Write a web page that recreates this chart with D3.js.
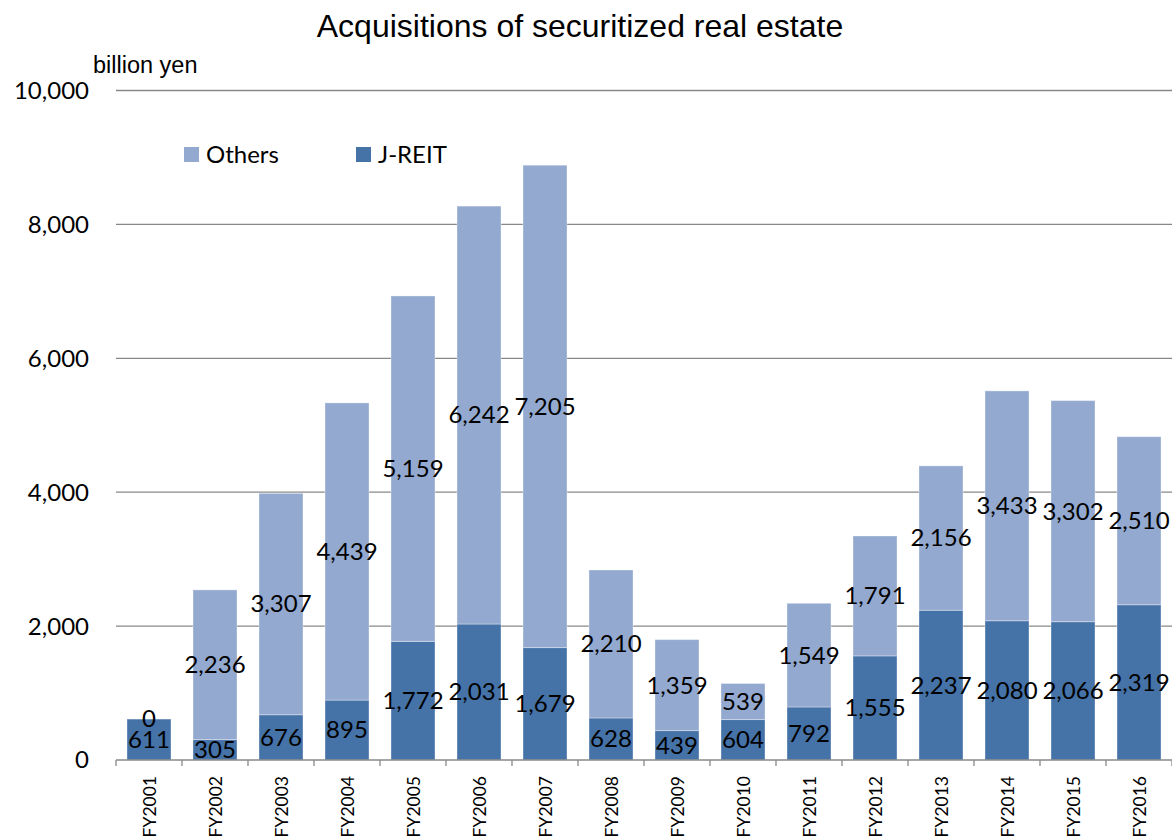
<!DOCTYPE html>
<html><head><meta charset="utf-8">
<script src="https://cdn.jsdelivr.net/npm/d3@7"></script>
<style>body{margin:0;background:#fff}svg{display:block}</style>
</head><body>
<svg id="chart" width="1172" height="838"></svg>
<script>
const categories = ["FY2001","FY2002","FY2003","FY2004","FY2005","FY2006","FY2007","FY2008","FY2009","FY2010","FY2011","FY2012","FY2013","FY2014","FY2015","FY2016"];
const jreit  = [611,305,676,895,1772,2031,1679,628,439,604,792,1555,2237,2080,2066,2319];
const others = [0,2236,3307,4439,5159,6242,7205,2210,1359,539,1549,1791,2156,3433,3302,2510];
const yTicks = [0,2000,4000,6000,8000,10000];
const seriesNames = ["J-REIT","Others"];
const colors = {"J-REIT":"#4572a7","Others":"#93a9cf"};

const svg = d3.select("#chart");
const M = {left:116, right:1172, top:90.5, bottom:760};
const labelFont = "Lato, 'Open Sans', sans-serif";

const x = d3.scaleBand().domain(categories).range([M.left, M.right]).paddingInner(1/3).paddingOuter(1/6);
const y = d3.scaleLinear().domain([0,10000]).range([M.bottom, M.top]);

// gridlines
svg.append("g").selectAll("line").data(yTicks.filter(d=>d>0)).join("line")
  .attr("x1",M.left).attr("x2",M.right)
  .attr("y1",d=>y(d)).attr("y2",d=>y(d))
  .attr("stroke","#888").attr("stroke-width",1.3);

// y tick labels
svg.append("g").selectAll("text").data(yTicks).join("text")
  .attr("x",89).attr("y",d=>y(d)).attr("dy","0.35em")
  .attr("text-anchor","end").attr("font-family",labelFont).attr("font-size",24).attr("fill","#000")
  .text(d=>d3.format(",")(d));

// stacked data
const rows = categories.map((c,i)=>({cat:c,"J-REIT":jreit[i],"Others":others[i]}));
const stack = d3.stack().keys(seriesNames)(rows);

const layers = svg.append("g").selectAll("g").data(stack).join("g")
  .attr("fill",d=>colors[d.key]);
layers.selectAll("rect").data(d=>d).join("rect")
  .attr("x",d=>x(d.data.cat)).attr("width",x.bandwidth())
  .attr("y",d=>y(d[1])).attr("height",d=>y(d[0])-y(d[1]))
  .attr("stroke","#ffffff").attr("stroke-opacity",0.35).attr("stroke-width",1);

// x axis line
svg.append("line").attr("x1",M.left).attr("x2",M.right).attr("y1",M.bottom).attr("y2",M.bottom)
  .attr("stroke","#888").attr("stroke-width",1.3);
const edges = categories.map(c=>x(c)-x.step()*x.paddingInner()/2);
edges.push(M.right);
svg.append("g").selectAll("line").data(edges).join("line")
  .attr("x1",d=>d).attr("x2",d=>d).attr("y1",M.bottom).attr("y2",M.bottom+6)
  .attr("stroke","#888").attr("stroke-width",1.3);

// x tick labels rotated
svg.append("g").selectAll("text").data(categories).join("text")
  .attr("transform",d=>`translate(${x(d)+x.bandwidth()/2+1},${M.bottom+16}) rotate(-90)`)
  .attr("text-anchor","end").attr("dy","0.35em")
  .attr("font-family",labelFont).attr("font-size",17.5).attr("fill","#000")
  .text(d=>d);

// data labels
const labels = svg.append("g");
stack.forEach(layer=>{
  labels.selectAll(null).data(layer).join("text")
    .attr("x",d=>x(d.data.cat)+x.bandwidth()/2)
    .attr("y",d=>y((d[0]+d[1])/2)).attr("dy","0.35em")
    .attr("text-anchor","middle").attr("font-family",labelFont).attr("font-size",24).attr("fill","#000")
    .text(d=>d3.format(",")(d.data[layer.key]));
});

// title
svg.append("text").attr("x",580).attr("y",37).attr("text-anchor","middle")
  .attr("font-family","'Liberation Sans', Arial, sans-serif").attr("font-size",32).attr("fill","#000")
  .text("Acquisitions of securitized real estate");
svg.append("text").attr("x",93).attr("y",73)
  .attr("font-family","'Liberation Sans', Arial, sans-serif").attr("font-size",23.5).attr("fill","#000")
  .text("billion yen");

// legend
const legendItems = ["Others","J-REIT"];
const lg = svg.append("g").selectAll("g").data(legendItems).join("g")
  .attr("transform",(d,i)=>`translate(${184+i*172},147)`);
lg.append("rect").attr("width",15).attr("height",15).attr("fill",d=>colors[d]);
lg.append("text").attr("x",22).attr("y",8).attr("dy","0.35em")
  .attr("font-family",labelFont).attr("font-size",24).attr("fill","#000").text(d=>d);
</script>
</body></html>
